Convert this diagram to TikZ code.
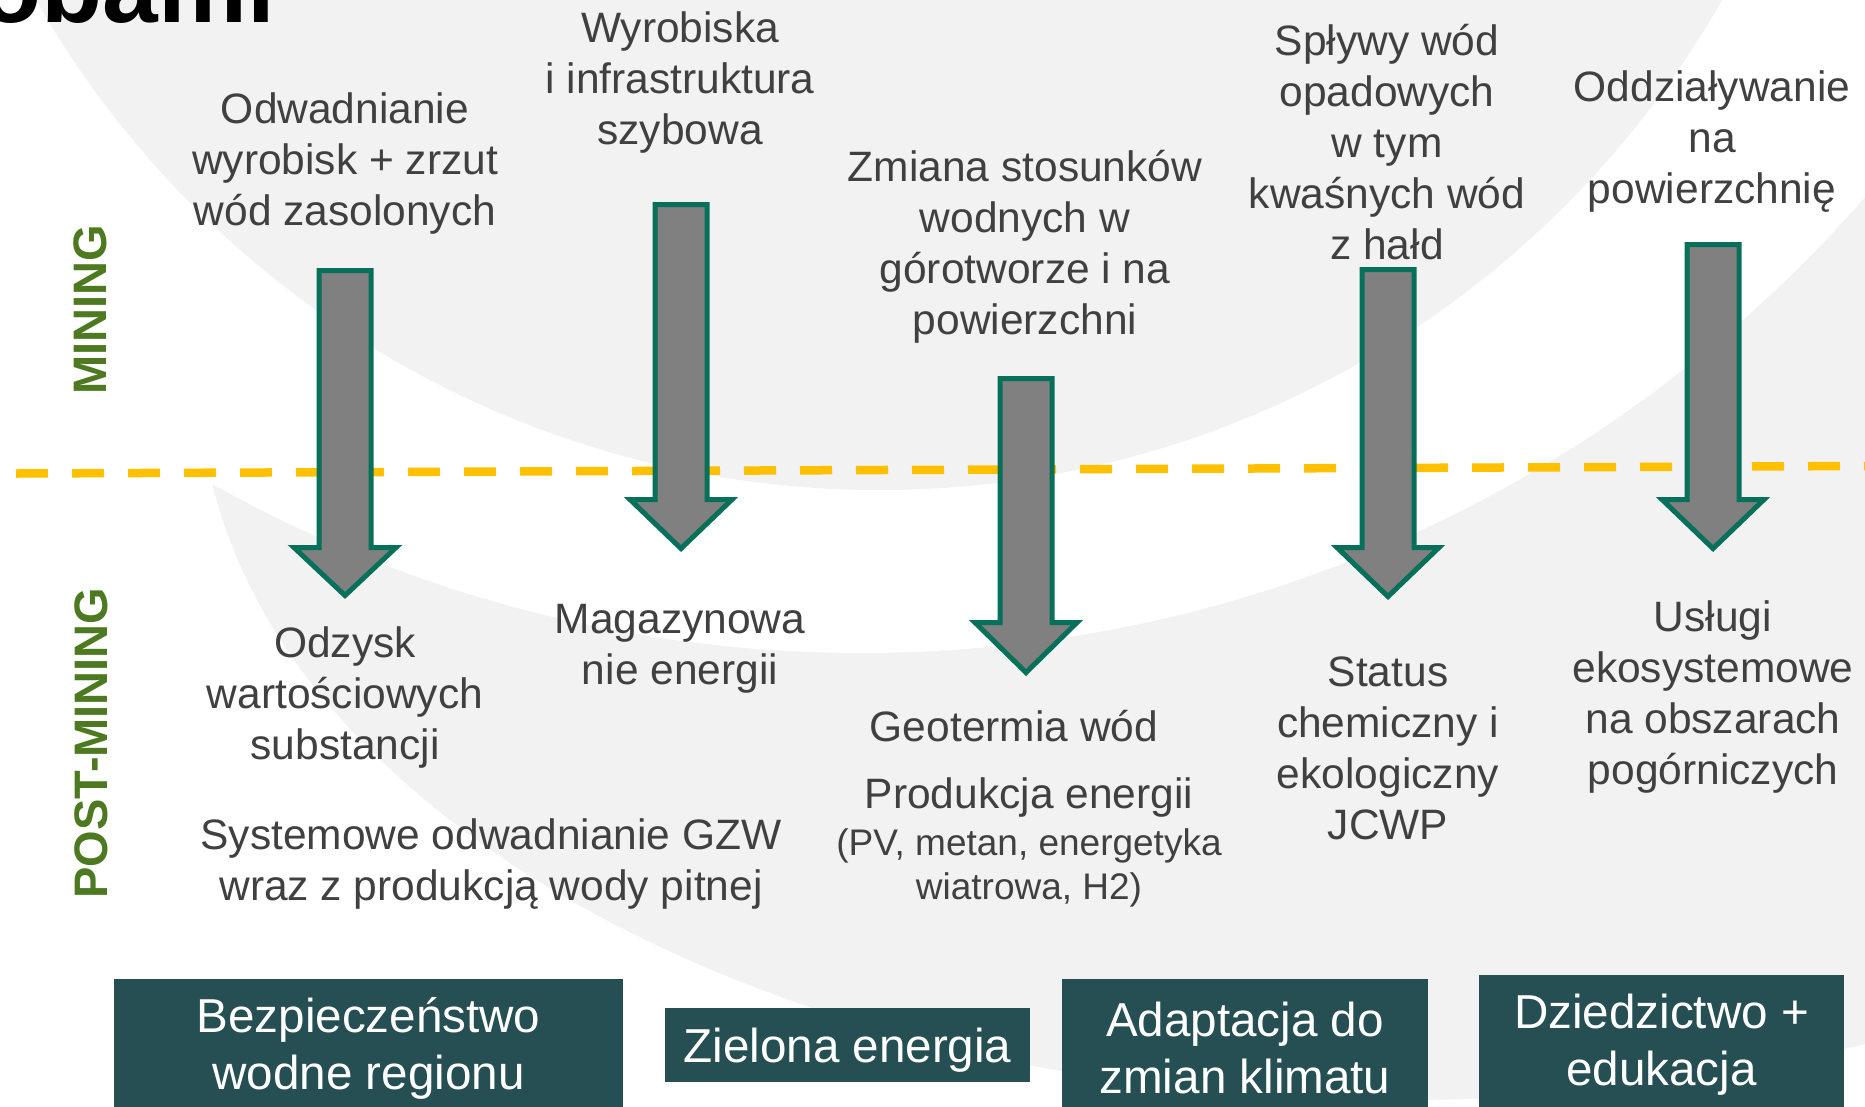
\documentclass[tikz,border=0pt]{standalone}
\usepackage{fontspec}
\setmainfont{Liberation Sans}
\definecolor{bggray}{HTML}{F2F2F2}
\definecolor{txtgray}{HTML}{404040}
\definecolor{arrowfill}{HTML}{808080}
\definecolor{arrowline}{HTML}{07705A}
\definecolor{dashyellow}{HTML}{FFC000}
\definecolor{labelgreen}{HTML}{4D7A21}
\definecolor{boxteal}{HTML}{254F53}
\tikzset{
  lbl/.style={text=txtgray, align=center, inner sep=0pt, font=\fontsize{42.5}{51}\selectfont},
  smalllbl/.style={text=txtgray, align=center, inner sep=0pt, font=\fontsize{37}{44}\selectfont},
  phase/.style={text=labelgreen, rotate=90, inner sep=0pt, font=\bfseries\fontsize{47}{56}\selectfont},
  goal/.style={fill=boxteal, text=white, align=center, inner sep=0pt, font=\fontsize{47.6}{57}\selectfont},
  blockarrow/.style={fill=arrowfill, draw=arrowline, line width=5pt, line join=miter},
  divider/.style={draw=dashyellow, line width=8.5pt, dash pattern=on 32pt off 24pt},
}
% #1 centre x, #2 shaft top, #3 head base, #4 tip (outer edges)
\newcommand{\BArrow}[4]{%
  \draw[blockarrow] ({#1-26},{#2+2.5}) -- ({#1-26},{#3+2.5}) -- ({#1-51},{#3+2.5})
    -- ({#1},{#4-3.5}) -- ({#1+51},{#3+2.5}) -- ({#1+26},{#3+2.5})
    -- ({#1+26},{#2+2.5}) -- cycle;}
\begin{document}
\begin{tikzpicture}[x=1pt,y=-1pt]
\useasboundingbox (0,0) rectangle (1865,1106);
\clip (0,0) rectangle (1865,1106);
% background
\fill[white] (0,0) rectangle (1865,1106);
\fill[bggray] (1400,380) ellipse [x radius=1200pt, y radius=720pt];
\fill[white] (862,-678) circle [radius=1331pt];
\fill[bggray] (879,-480) circle [radius=970pt];
% title fragment
\node[anchor=base east, inner sep=0pt, font=\bfseries\fontsize{100}{120}\selectfont] (title) at (275,22) {obami};
% divider
\coordinate (dl) at (16,473.5);
\coordinate (dr) at (1870,466);
\draw[divider] (dl) -- (dr);
% phase labels
\node[phase] (mining) at (90,310) {MINING};
\node[phase] (postmining) at (91,743) {POST-MINING};
% arrows
\BArrow{345}{268}{545}{599}
\BArrow{681}{202}{497}{552}
\BArrow{1026}{376}{620}{676}
\BArrow{1388}{267}{545}{600}
\BArrow{1713}{242}{497}{552}
% top labels
\node[lbl] (t1) at (345,164) {Odwadnianie\\wyrobisk + zrzut\\wód zasolonych};
\node[lbl] (t2) at (680,83) {Wyrobiska\\i infrastruktura\\szybowa};
\node[lbl] (t3) at (1025,247) {Zmiana stosunków\\wodnych w\\górotworze i na\\powierzchni};
\node[lbl] (t4) at (1387,142) {Spływy wód\\opadowych\\w tym\\kwaśnych wód\\z hałd};
\node[lbl] (t5) at (1712,142) {Oddziaływanie\\na\\powierzchnię};
% bottom labels
\node[lbl] (b1) at (345,697) {Odzysk\\wartościowych\\substancji};
\node[lbl] (b2) at (680,649) {Magazynowa\\nie energii};
\node[lbl] (b3) at (1014,726) {Geotermia wód};
\node[lbl] (b4) at (1029,797) {Produkcja energii};
\node[smalllbl] (b5) at (1029,868) {(PV, metan, energetyka\\wiatrowa, H2)};
\node[lbl] (b6) at (1388,748) {Status\\chemiczny i\\ekologiczny\\JCWP};
\node[lbl] (b7) at (1713,697) {Usługi\\ekosystemowe\\na obszarach\\pogórniczych};
\node[lbl] (b8) at (491,864) {Systemowe odwadnianie GZW\\wraz z produkcją wody pitnej};
% goal boxes
\node[goal, minimum width=509pt, minimum height=139pt] (g1) at (368.5,1048.5) {Bezpieczeństwo\\wodne regionu};
\node[goal, minimum width=365pt, minimum height=74pt, text depth=0pt] (g2) at (847.5,1045) {Zielona energia};
\node[goal, minimum width=366pt, minimum height=137pt] (g3) at (1245,1047.5) {Adaptacja do\\zmian klimatu};
\node[goal, minimum width=365pt, minimum height=140pt] (g4) at (1661.5,1045) {Dziedzictwo +\\edukacja};
\end{tikzpicture}
\end{document}
